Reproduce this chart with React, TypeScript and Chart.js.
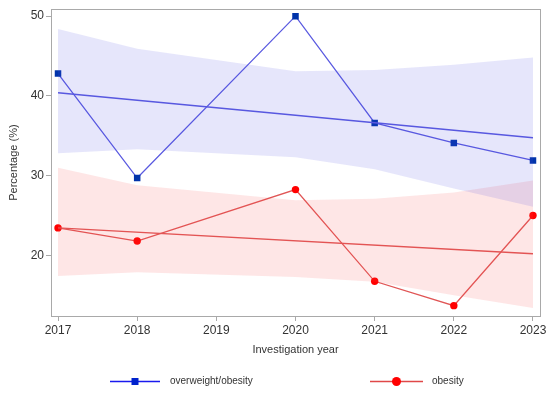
import React, { useEffect, useRef } from "react";
import { Chart, registerables } from "chart.js";

Chart.register(...registerables);

const years = [2017, 2018, 2020, 2021, 2022, 2023];
const xTicks = [2017, 2018, 2019, 2020, 2021, 2022, 2023];
const yTicks = [20, 30, 40, 50];

const overweight = [42.8, 29.7, 50.0, 36.6, 34.1, 31.9];
const obesity = [23.45, 21.8, 28.25, 16.75, 13.7, 25.0];

const owUpper = [48.4, 45.9, 43.1, 43.25, 43.9, 44.8];
const owLower = [32.8, 33.3, 32.3, 30.8, 28.4, 26.1];
const obUpper = [31.0, 28.8, 26.9, 27.1, 27.9, 29.4];
const obLower = [17.4, 17.9, 17.3, 16.7, 15.0, 13.4];

const regYears = [2017, 2023];
const owFit = [40.4, 34.75];
const obFit = [23.45, 20.2];

const seriesNames = ["overweight/obesity", "obesity"];

const FONT = "'Liberation Sans', Arial, sans-serif";
const GRAY = "#a9a9a9";

const pts = (xs: number[], ys: number[]) => xs.map((x, i) => ({ x, y: ys[i] }));

const framePlugin = {
  id: "frame",
  afterDraw(chart: any) {
    const { ctx, chartArea } = chart;
    ctx.save();
    ctx.strokeStyle = GRAY;
    ctx.lineWidth = 1;
    ctx.strokeRect(
      Math.round(chartArea.left) + 0.5,
      Math.round(chartArea.top) + 0.5,
      Math.round(chartArea.right - chartArea.left),
      Math.round(chartArea.bottom - chartArea.top)
    );
    // legend
    const y = 381.5;
    const items = [
      { x0: 110, x1: 160, color: "#1a1aee", marker: "square", mcolor: "#0022cc", text: seriesNames[0], tx: 170 },
      { x0: 370, x1: 423, color: "#e04848", marker: "circle", mcolor: "#ff0000", text: seriesNames[1], tx: 432 },
    ];
    items.forEach((it) => {
      ctx.strokeStyle = it.color;
      ctx.lineWidth = 1.5;
      ctx.beginPath();
      ctx.moveTo(it.x0, y);
      ctx.lineTo(it.x1, y);
      ctx.stroke();
      const cx = (it.x0 + it.x1) / 2;
      ctx.fillStyle = it.mcolor;
      if (it.marker === "square") {
        ctx.fillRect(cx - 3.5, y - 3.5, 7, 7);
      } else {
        ctx.beginPath();
        ctx.arc(cx, y, 4.5, 0, Math.PI * 2);
        ctx.fill();
      }
      ctx.fillStyle = "#333";
      ctx.font = `10px ${FONT}`;
      ctx.textBaseline = "middle";
      ctx.textAlign = "left";
      ctx.fillText(it.text, it.tx, y);
    });
    ctx.restore();
  },
};

const bgPlugin = {
  id: "bg",
  beforeDraw(chart: any) {
    const { ctx, width, height } = chart;
    ctx.save();
    ctx.fillStyle = "#ffffff";
    ctx.fillRect(0, 0, width, height);
    ctx.restore();
  },
};

export default function App() {
  const ref = useRef<HTMLCanvasElement | null>(null);

  useEffect(() => {
    if (!ref.current) return;
    const chart = new Chart(ref.current, {
      type: "line",
      data: {
        datasets: [
          {
            label: "owUpper",
            data: pts(years, owUpper),
            borderWidth: 0,
            pointRadius: 0,
            fill: "+1",
            backgroundColor: "rgba(80,80,230,0.14)",
            borderColor: "rgba(0,0,0,0)",
            tension: 0,
          },
          {
            label: "owLower",
            data: pts(years, owLower),
            borderWidth: 0,
            pointRadius: 0,
            fill: false,
            borderColor: "rgba(0,0,0,0)",
            tension: 0,
          },
          {
            label: "obUpper",
            data: pts(years, obUpper),
            borderWidth: 0,
            pointRadius: 0,
            fill: "+1",
            backgroundColor: "rgba(250,80,80,0.14)",
            borderColor: "rgba(0,0,0,0)",
            tension: 0,
          },
          {
            label: "obLower",
            data: pts(years, obLower),
            borderWidth: 0,
            pointRadius: 0,
            fill: false,
            borderColor: "rgba(0,0,0,0)",
            tension: 0,
          },
          {
            label: "owFit",
            data: pts(regYears, owFit),
            borderWidth: 1.5,
            pointRadius: 0,
            borderColor: "#5a5ae0",
            fill: false,
          },
          {
            label: "obFit",
            data: pts(regYears, obFit),
            borderWidth: 1.5,
            pointRadius: 0,
            borderColor: "#e05555",
            fill: false,
          },
          {
            label: seriesNames[0],
            data: pts(years, overweight),
            borderWidth: 1.3,
            borderColor: "#5a5ae0",
            pointStyle: "rect",
            pointRadius: 4.6,
            pointBackgroundColor: "#0033aa",
            pointBorderColor: "#0033aa",
            pointBorderWidth: 0,
            fill: false,
          },
          {
            label: seriesNames[1],
            data: pts(years, obesity),
            borderWidth: 1.3,
            borderColor: "#e05555",
            pointStyle: "circle",
            pointRadius: 3.7,
            pointBackgroundColor: "#ff0000",
            pointBorderColor: "#ff0000",
            pointBorderWidth: 0,
            fill: false,
          },
        ],
      },
      options: {
        animation: false,
        responsive: false,
        devicePixelRatio: 1,
        layout: { padding: { left: 0, right: 10, top: 7, bottom: 34 } },
        plugins: {
          legend: { display: false },
          tooltip: { enabled: false },
        },
        scales: {
          x: {
            type: "linear",
            min: 2017 - 7 / 79,
            max: 2023 + 7 / 79,
            afterBuildTicks: (s: any) => {
              s.ticks = xTicks.map((v) => ({ value: v }));
            },
            afterFit: (s: any) => {
              s.height = 45;
            },
            grid: {
              drawOnChartArea: false,
              drawTicks: true,
              tickLength: 5,
              color: GRAY,
            },
            border: { display: true, color: GRAY },
            ticks: {
              font: { family: FONT, size: 12 },
              color: "#333",
              padding: 2,
              maxRotation: 0,
              callback: (v: any) => String(v),
            },
            title: {
              display: true,
              text: "Investigation year",
              font: { family: FONT, size: 11 },
              color: "#333",
              padding: { top: 0, bottom: 4 },
            },
          },
          y: {
            type: "linear",
            min: 12.4,
            max: 50.87,
            afterBuildTicks: (s: any) => {
              s.ticks = yTicks.map((v) => ({ value: v }));
            },
            afterFit: (s: any) => {
              s.width = 51;
            },
            grid: {
              drawOnChartArea: false,
              drawTicks: true,
              tickLength: 5,
              color: GRAY,
            },
            border: { display: true, color: GRAY },
            ticks: {
              font: { family: FONT, size: 12 },
              color: "#333",
              padding: 2,
            },
            title: {
              display: true,
              text: "Percentage (%)",
              font: { family: FONT, size: 11 },
              color: "#333",
              padding: { top: 7, bottom: 0 },
            },
          },
        },
      },
      plugins: [bgPlugin, framePlugin],
    } as any);
    return () => chart.destroy();
  }, []);

  return (
    <div style={{ position: "fixed", left: 0, top: 0, width: 550, height: 395, background: "#fff" }}>
      <canvas ref={ref} width={550} height={395} style={{ width: 550, height: 395, display: "block" }} />
    </div>
  );
}
